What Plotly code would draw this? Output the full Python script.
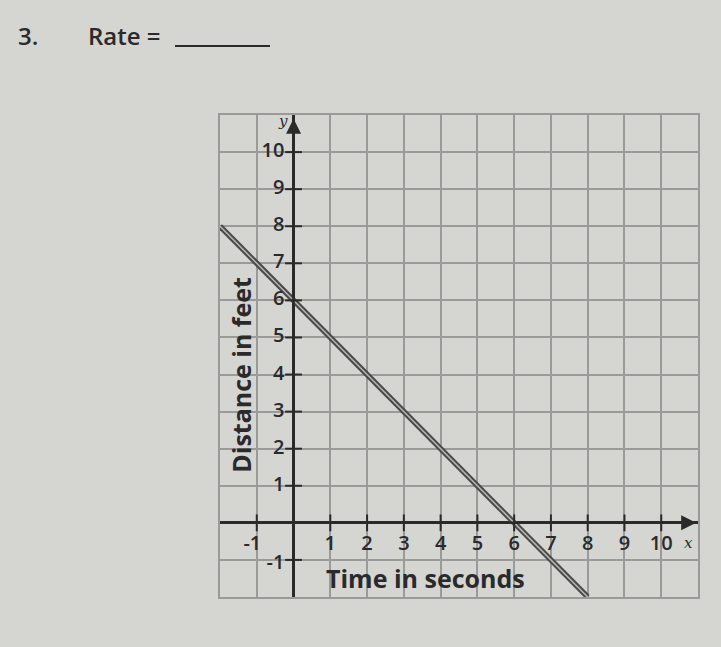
import plotly.graph_objects as go

# Data
x_ticks = [-1, 1, 2, 3, 4, 5, 6, 7, 8, 9, 10]
x_tick_labels = ["-1", "1", "2", "3", "4", "5", "6", "7", "8", "9", "10"]
y_ticks = [-1, 1, 2, 3, 4, 5, 6, 7, 8, 9, 10]
y_tick_labels = ["-1", "1", "2", "3", "4", "5", "6", "7", "8", "9", "10"]
line_x = [-2, 8]
line_y = [8, -2]

BG = "#d5d5d1"
GRID = "#9a9a98"
INK = "#2a2a2a"
FONT = "Open Sans"

fig = go.Figure()

# the distance line (double stroke look)
fig.add_trace(go.Scatter(x=line_x, y=line_y, mode="lines",
                         line=dict(color="#4a4a4a", width=5.5), hoverinfo="skip"))
fig.add_trace(go.Scatter(x=line_x, y=line_y, mode="lines",
                         line=dict(color="#b8b8b4", width=1.5), hoverinfo="skip"))

# tick marks on the axes
fig.add_trace(go.Scatter(x=x_ticks, y=[0] * len(x_ticks), mode="markers",
                         marker=dict(symbol="line-ns", size=12,
                                     line=dict(color=INK, width=2)),
                         hoverinfo="skip"))
fig.add_trace(go.Scatter(x=[0] * len(y_ticks), y=y_ticks, mode="markers",
                         marker=dict(symbol="line-ew", size=12,
                                     line=dict(color=INK, width=2)),
                         hoverinfo="skip"))

# tick labels
fig.add_trace(go.Scatter(x=[v - (0.12 if v < 0 else 0) for v in x_ticks],
                         y=[-0.6] * len(x_ticks), mode="text",
                         text=x_tick_labels,
                         textfont=dict(family=FONT, size=20, color=INK, weight=600),
                         hoverinfo="skip"))
fig.add_trace(go.Scatter(x=[-0.25] * len(y_ticks),
                         y=[v - (0.1 if v < 0 else 0) for v in y_ticks],
                         mode="text", text=y_tick_labels, textposition="middle left",
                         textfont=dict(family=FONT, size=20, color=INK, weight=600),
                         hoverinfo="skip"))

# axis arrows
fig.add_annotation(x=10.95, y=0, ax=-2, ay=0, xref="x", yref="y", axref="x", ayref="y",
                   showarrow=True, arrowhead=2, arrowsize=1.2, arrowwidth=2.5,
                   arrowcolor=INK, text="")
fig.add_annotation(x=0, y=10.9, ax=0, ay=-2, xref="x", yref="y", axref="x", ayref="y",
                   showarrow=True, arrowhead=2, arrowsize=1.2, arrowwidth=2.5,
                   arrowcolor=INK, text="")

# axis letters
fig.add_annotation(x=10.75, y=-0.55, xref="x", yref="y", text="<i>x</i>", showarrow=False,
                   font=dict(family="DejaVu Serif", size=15, color=INK))
fig.add_annotation(x=-0.3, y=10.85, xref="x", yref="y", text="<i>y</i>", showarrow=False,
                   font=dict(family="DejaVu Serif", size=15, color=INK))

# axis titles
fig.add_annotation(x=3.6, y=-1.5, xref="x", yref="y", text="<b>Time in seconds</b>",
                   showarrow=False, font=dict(family=FONT, size=25, color=INK))
fig.add_annotation(x=-1.45, y=4.0, xref="x", yref="y", text="<b>Distance in feet</b>",
                   showarrow=False, textangle=-90, font=dict(family=FONT, size=25, color=INK))

# header text
fig.add_annotation(x=16, y=36, xref="paper", yref="paper", text="3.", showarrow=False,
                   font=dict(family=FONT, size=24, color=INK, weight=600),
                   xanchor="left", yanchor="middle")
fig.add_annotation(x=86, y=36, xref="paper", yref="paper", text="Rate =", showarrow=False,
                   font=dict(family=FONT, size=24, color=INK, weight=600),
                   xanchor="left", yanchor="middle")

fig.update_layout(
    width=721, height=647, autosize=False,
    margin=dict(l=220, r=23, t=115, b=50),
    paper_bgcolor=BG, plot_bgcolor=BG,
    showlegend=False,
    xaxis=dict(range=[-2, 11], dtick=1, tick0=0, showgrid=True, gridcolor=GRID, gridwidth=1.5,
               showticklabels=False, ticks="", zeroline=True, zerolinecolor=INK,
               zerolinewidth=2.5, showline=True, linecolor=GRID, linewidth=1.5, mirror=True,
               fixedrange=True),
    yaxis=dict(range=[-2, 11], dtick=1, tick0=0, showgrid=True, gridcolor=GRID, gridwidth=1.5,
               showticklabels=False, ticks="", zeroline=True, zerolinecolor=INK,
               zerolinewidth=2.5, showline=True, linecolor=GRID, linewidth=1.5, mirror=True,
               fixedrange=True),
)

# convert header annotations to paper coordinates
W, H = 721, 647
pw, ph = W - 220 - 23, H - 115 - 50
for ann in fig.layout.annotations:
    if ann.xref == "paper":
        px, py = ann.x, ann.y
        ann.x = (px - 220) / pw
        ann.y = 1 + (115 - py) / ph

# underline after "Rate ="
fig.add_shape(type="line", xref="paper", yref="paper",
              x0=(175 - 220) / pw, x1=(270 - 220) / pw,
              y0=1 + (115 - 46) / ph, y1=1 + (115 - 46) / ph,
              line=dict(color=INK, width=2))

fig.write_html("out.html", config={"displayModeBar": False})
